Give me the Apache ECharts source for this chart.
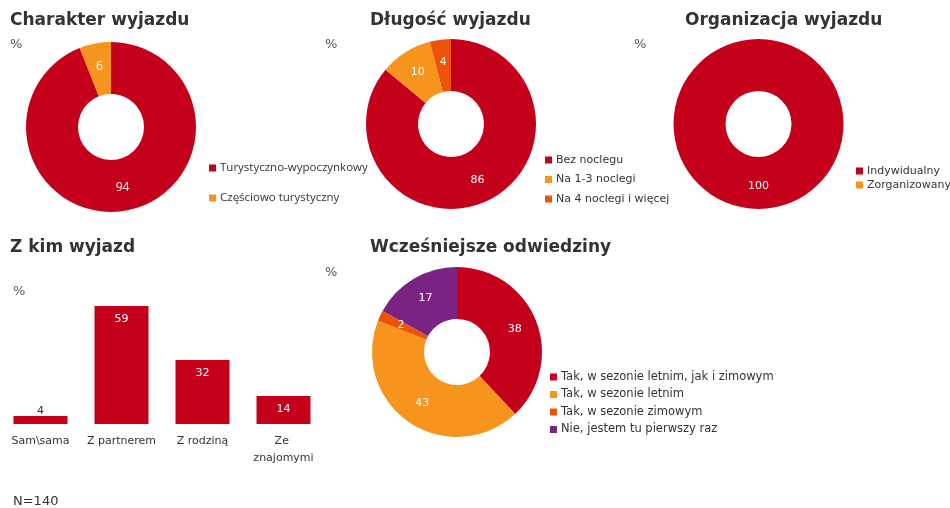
<!DOCTYPE html>
<html><head><meta charset="utf-8">
<script src="https://cdn.jsdelivr.net/npm/echarts@6/dist/echarts.min.js"></script>
<style>html,body{margin:0;padding:0;background:#fff}#c{width:950px;height:508px}</style>
</head><body><div id="c"></div>
<script>
// ---- data ----
const charLabels = ['Turystyczno-wypoczynkowy', 'Częściowo turystyczny'];
const charValues = [94, 6];
const dlugLabels = ['Bez noclegu', 'Na 1-3 noclegi', 'Na 4 noclegi i więcej'];
const dlugValues = [86, 10, 4];
const orgLabels = ['Indywidualny', 'Zorganizowany'];
const orgValues = [100, 0];
const zkimCats = ['Sam\\sama', 'Z partnerem', 'Z rodziną', 'Ze znajomymi'];
const zkimValues = [4, 59, 32, 14];
const wczLabels = ['Tak, w sezonie letnim, jak i zimowym', 'Tak, w sezonie letnim', 'Tak, w sezonie zimowym', 'Nie, jestem tu pierwszy raz'];
const wczValues = [38, 43, 2, 17];
const titles = ['Charakter wyjazdu', 'Długość wyjazdu', 'Organizacja wyjazdu', 'Z kim wyjazd', 'Wcześniejsze odwiedziny'];
const nLabel = 'N=140';

// ---- style ----
const RED = '#C5001A', ORANGE = '#F7941E', DORANGE = '#EE5409', PURPLE = '#7B2383';
const FONT = 'DejaVu Sans';
const FONT2 = 'Open Sans';
const TXT = '#333333';

function mk(labels, values) { return labels.map((n, i) => ({ name: n, value: values[i] })); }
function pie(labels, values, colors, center, font, fs) {
  return {
    type: 'pie', center: center, radius: [33, 85], startAngle: 90, clockwise: true,
    avoidLabelOverlap: false, color: colors, silent: true,
    label: { show: true, position: 'inside', color: '#fff', fontFamily: font || FONT, fontSize: fs || 11,
      formatter: p => p.value ? String(p.value) : '' },
    labelLine: { show: false },
    emphasis: { disabled: true },
    data: mk(labels, values)
  };
}
function legend(labels, left, top, gap, font, fs) {
  return { data: labels, orient: 'vertical', left: left, top: top, padding: 0, itemGap: gap,
    itemWidth: 7, itemHeight: 7, icon: 'rect', selectedMode: false,
    textStyle: { color: TXT, fontFamily: font || FONT, fontSize: fs || 11, lineHeight: 14, padding: [0, 0, 0, -1] } };
}
function ttl(text, left, top) {
  return { text: text, left: left, top: top, padding: 0,
    textStyle: { color: TXT, fontFamily: FONT, fontSize: 17, fontWeight: 'bold' } };
}
function pct(left, top) {
  return { type: 'text', left: left, top: top, style: { text: '%', fill: '#555', font: '13px "DejaVu Sans"' } };
}

const chart = echarts.init(document.getElementById('c'));
chart.setOption({
  animation: false,
  title: [ttl(titles[0], 10, 12), ttl(titles[1], 370, 12), ttl(titles[2], 685, 12), ttl(titles[3], 10, 239), ttl(titles[4], 370, 239)],
  legend: [
    legend(charLabels, 209, 161, 16, FONT2, 11.5),
    legend(dlugLabels, 545, 153, 5.5),
    legend(orgLabels, 856, 164, 0),
    legend(wczLabels, 550, 370, 3.5, FONT, 11.5)
  ],
  grid: { left: 0, top: 224, width: 324, height: 200, containLabel: false },
  xAxis: { type: 'category', data: zkimCats,
    axisLine: { show: false }, axisTick: { show: false },
    axisLabel: { interval: 0, color: TXT, fontFamily: FONT, fontSize: 11, margin: 9, lineHeight: 17,
      width: 72, overflow: 'break', align: 'center' } },
  yAxis: { type: 'value', min: 0, max: 100, show: false, splitLine: { show: false } },
  graphic: [
    pct(10, 38), pct(325, 38), pct(634, 38), pct(13, 285), pct(325, 266),
    { type: 'text', left: 13, top: 495, style: { text: nLabel, fill: TXT, font: '13px "DejaVu Sans"' } }
  ],
  series: [
    pie(charLabels, charValues, [RED, ORANGE], [111, 127], FONT2, 12),
    pie(dlugLabels, dlugValues, [RED, ORANGE, DORANGE], [451, 124]),
    pie(orgLabels, orgValues, [RED, ORANGE], [758.5, 124]),
    pie(wczLabels, wczValues, [RED, ORANGE, DORANGE, PURPLE], [457, 352]),
    { type: 'bar', barWidth: 54, silent: true, itemStyle: { color: RED },
      data: zkimValues.map(v => v < 8
        ? { value: v, label: { position: 'top', color: TXT, distance: -1 } }
        : { value: v }),
      label: { show: true, position: 'insideTop', distance: 8, color: '#fff', fontFamily: FONT, fontSize: 11 } }
  ]
});
</script></body></html>
